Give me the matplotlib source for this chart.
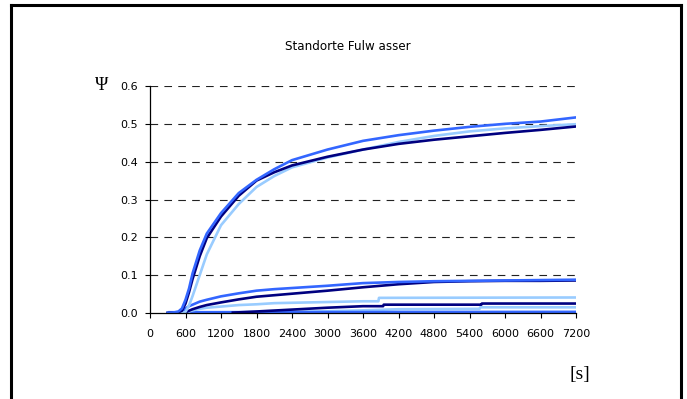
import matplotlib
matplotlib.use("Agg")
import matplotlib.pyplot as plt
from matplotlib.lines import Line2D

# time axis [s] shared by the smooth curves
t = [300, 420, 480, 540, 600, 660, 720, 840, 960, 1200, 1500, 1800,
     2100, 2400, 3000, 3600, 4200, 4800, 5400, 6000, 6600, 7200]

# upper group (Psi ~ 0.5)
big_blue = [0, 0.002, 0.004, 0.012, 0.035, 0.065, 0.105, 0.165, 0.21, 0.264, 0.317, 0.352,
            0.38, 0.404, 0.432, 0.455, 0.47, 0.482, 0.492, 0.5, 0.506, 0.517]
big_navy = [0, 0.001, 0.002, 0.006, 0.025, 0.055, 0.09, 0.15, 0.198, 0.255, 0.31, 0.35,
            0.372, 0.39, 0.413, 0.432, 0.447, 0.458, 0.467, 0.476, 0.484, 0.493]
big_light = [0, 0, 0, 0, 0.003, 0.02, 0.045, 0.1, 0.155, 0.232, 0.288, 0.333,
             0.362, 0.385, 0.411, 0.432, 0.452, 0.468, 0.48, 0.488, 0.494, 0.499]

# middle group (Psi ~ 0.08)
mid_blue = [0, 0, 0, 0.002, 0.012, 0.018, 0.022, 0.03, 0.035, 0.044, 0.052, 0.059,
            0.063, 0.066, 0.072, 0.079, 0.082, 0.084, 0.085, 0.086, 0.087, 0.088]
mid_navy = [0, 0, 0, 0, 0.002, 0.006, 0.010, 0.016, 0.021, 0.028, 0.036, 0.043,
            0.047, 0.051, 0.059, 0.068, 0.076, 0.082, 0.084, 0.085, 0.085, 0.086]

# stepped series with their own time stamps
mid_light_t = [540, 600, 660, 720, 840, 960, 1200, 1500, 1800, 2100, 2400, 3000, 3600,
               3860, 3870, 7200]
mid_light = [0, 0.001, 0.004, 0.007, 0.011, 0.014, 0.017, 0.021, 0.023, 0.026, 0.027,
             0.029, 0.031, 0.031, 0.040, 0.041]

navy_low_t = [1400, 1800, 2400, 3000, 3600, 3940, 3950, 5600, 5610, 7200]
navy_low = [0.001, 0.004, 0.009, 0.014, 0.018, 0.018, 0.022, 0.022, 0.025, 0.025]

light_low_t = [900, 1700, 2800, 3600, 4200, 5570, 5580, 7200]
light_low = [0.0, 0.002, 0.004, 0.007, 0.010, 0.011, 0.015, 0.015]

blue_low_t = [330, 7200]
blue_low = [0.002, 0.003]

x_ticks = list(range(0, 7201, 600))
y_ticks = [0.0, 0.1, 0.2, 0.3, 0.4, 0.5, 0.6]

NAVY = "#000080"
BLUE = "#3366FF"
LIGHT = "#99CCFF"

plt.rcParams["font.family"] = ["DejaVu Sans"]
plt.rcParams["lines.scale_dashes"] = False

fig = plt.figure(figsize=(6.87, 3.99), dpi=100)
ax = fig.add_axes([150 / 687, 1 - 313 / 399, 426 / 687, 227 / 399])

# dashed gridlines (not at zero)
for yv in y_ticks[1:]:
    ax.axhline(yv, color="#222222", lw=0.8, dashes=(5.5, 4.5), zorder=1)

lw = 1.9
ax.plot(light_low_t, light_low, color=LIGHT, lw=lw)
ax.plot(blue_low_t, blue_low, color=BLUE, lw=lw)
ax.plot(navy_low_t, navy_low, color=NAVY, lw=lw)
ax.plot(mid_light_t, mid_light, color=LIGHT, lw=lw)
ax.plot(t, mid_navy, color=NAVY, lw=lw)
ax.plot(t, mid_blue, color=BLUE, lw=lw)
ax.plot(t, big_light, color=LIGHT, lw=lw)
ax.plot(t, big_navy, color=NAVY, lw=lw)
ax.plot(t, big_blue, color=BLUE, lw=lw)

ax.set_xlim(0, 7200)
ax.set_ylim(0, 0.6)
ax.set_xticks(x_ticks)
ax.set_yticks(y_ticks)
ax.set_yticklabels([f"{v:.1f}" for v in y_ticks])
ax.tick_params(axis="both", direction="out", length=3.5, width=0.8,
               labelsize=8, colors="black")
ax.tick_params(axis="y", pad=5)
ax.tick_params(axis="x", pad=8)
for side in ("top", "right"):
    ax.spines[side].set_visible(False)
for side in ("left", "bottom"):
    ax.spines[side].set_linewidth(0.9)
    ax.spines[side].set_color("black")

fig.text(0.507, 1 - 46 / 399, "Standorte Fulw asser", ha="center", va="center",
         fontsize=8.6)
fig.text(102 / 687, 1 - 86 / 399, "\u03a8", ha="center", va="center",
         fontsize=13, family="Liberation Serif")
fig.text(580 / 687, 1 - 375 / 399, "[s]", ha="center", va="center",
         fontsize=14, family="Liberation Serif")

# frame around the chart (bottom edge is cut off in the original)
top = 1 - 5 / 399
left = 11 / 687
right = 681 / 687
for xs, ys in [([left, right], [top, top]), ([left, left], [0, top]),
               ([right, right], [0, top])]:
    fig.add_artist(Line2D(xs, ys, color="black", lw=2.2, transform=fig.transFigure))

fig.savefig("out.png", dpi=100)
